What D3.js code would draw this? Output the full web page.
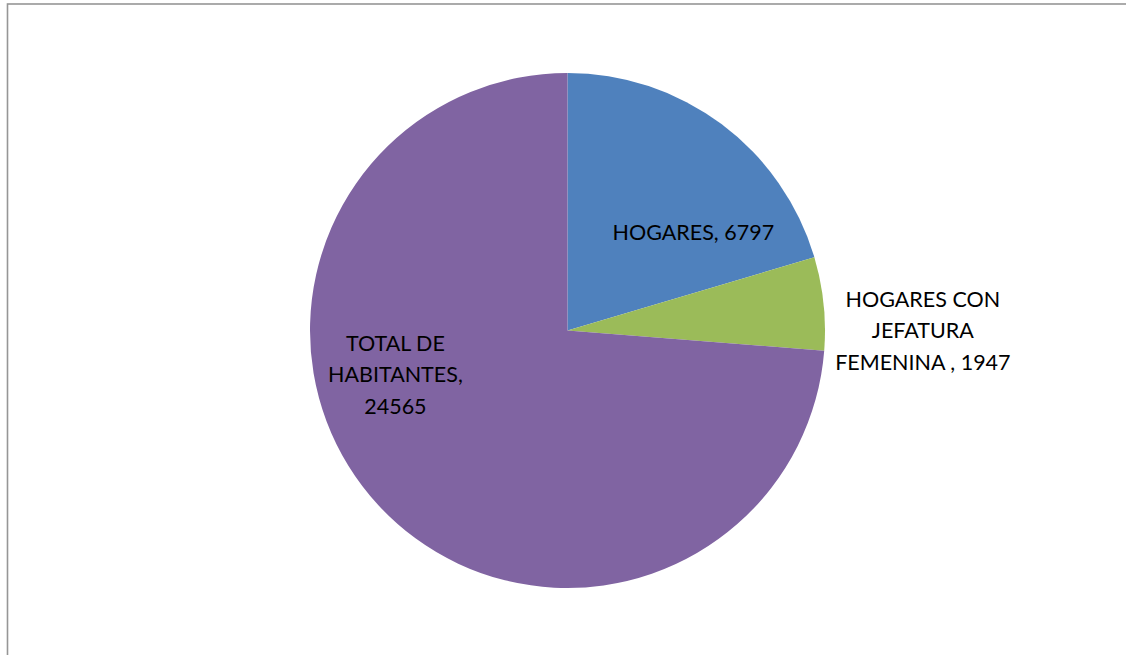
<!DOCTYPE html>
<html>
<head>
<meta charset="utf-8">
<script src="https://cdn.jsdelivr.net/npm/d3@7"></script>
<style>
  html, body { margin: 0; padding: 0; background: #fff; }
  svg { display: block; }
</style>
</head>
<body>
<div id="chart"></div>
<script>
// Datos del gráfico
const categories = ["HOGARES", "HOGARES CON JEFATURA FEMENINA ", "TOTAL DE HABITANTES"];
const values = [6797, 1947, 24565];
const labelLines = [
    ["HOGARES, 6797"],
    ["HOGARES CON", "JEFATURA", "FEMENINA , 1947"],
    ["TOTAL DE", "HABITANTES,", "24565"]
];

// Colores (paleta Office)
const colors = ["#4F81BD", "#9BBB59", "#8064A2"];

// Ubicación de etiquetas: ángulo (grados desde arriba) y radio relativo
const labelPlacement = [
    { angle: 52, r: 0.62 },
    { angle: 90, r: 1.38 },
    { angle: 255.6, r: 0.69 }
];

const width = 1126;
const height = 655;
const cx = 567.5;
const cy = 330.5;
const radius = 257.5;
const fontSize = 21.5;
const lineHeight = 31.5;

const svg = d3.select("#chart")
    .append("svg")
    .attr("width", width)
    .attr("height", height);

// Marco del área del gráfico
svg.append("rect")
    .attr("x", 7.5)
    .attr("y", 4)
    .attr("width", width + 20)
    .attr("height", height + 20)
    .attr("fill", "none")
    .attr("stroke", "#969696")
    .attr("stroke-width", 1.6);

const data = categories.map((c, i) => ({ name: c, value: values[i], lines: labelLines[i], color: colors[i] }));

const pie = d3.pie()
    .value(d => d.value)
    .sort(null);

const arc = d3.arc()
    .innerRadius(0)
    .outerRadius(radius);

const g = svg.append("g")
    .attr("transform", `translate(${cx},${cy})`);

g.selectAll("path")
    .data(pie(data))
    .enter().append("path")
    .attr("d", arc)
    .attr("fill", d => d.data.color);

// Etiquetas
const labels = g.selectAll("text")
    .data(data)
    .enter().append("text")
    .attr("text-anchor", "middle")
    .style("font-family", "Lato, 'Open Sans', sans-serif")
    .style("font-size", fontSize + "px")
    .style("fill", "#000")
    .attr("transform", (d, i) => {
        const a = labelPlacement[i].angle * Math.PI / 180;
        const r = labelPlacement[i].r * radius;
        return `translate(${r * Math.sin(a)},${-r * Math.cos(a)})`;
    });

labels.selectAll("tspan")
    .data(d => d.lines.map((l, k) => ({ text: l, k, n: d.lines.length })))
    .enter().append("tspan")
    .attr("x", 0)
    .attr("y", d => (d.k - (d.n - 1) / 2) * lineHeight)
    .attr("dy", "0.35em")
    .text(d => d.text);
</script>
</body>
</html>
